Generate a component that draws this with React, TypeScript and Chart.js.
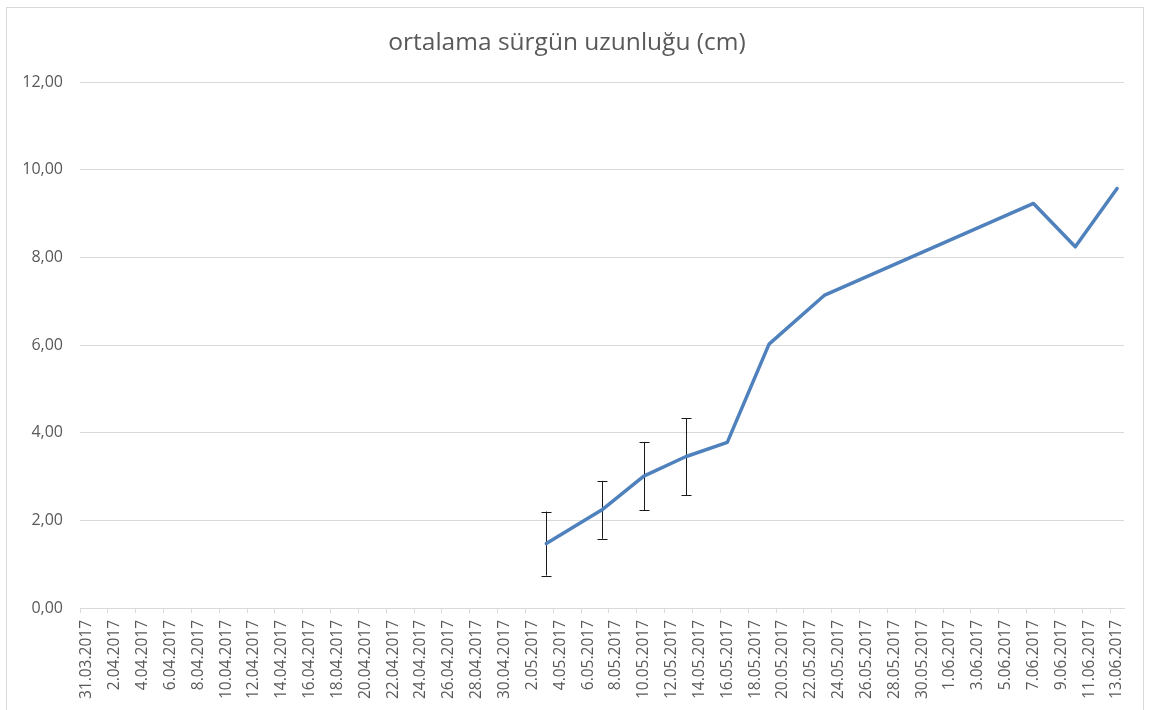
import React, { useEffect, useRef } from "react";
import { Chart, registerables } from "chart.js";

Chart.register(...registerables);

// Category range (daily axis)
const firstDay = "2017-03-31";
const lastDay = "2017-06-13";

// Measurements
const measureDates = [
  "3.05.2017",
  "7.05.2017",
  "10.05.2017",
  "13.05.2017",
  "16.05.2017",
  "19.05.2017",
  "23.05.2017",
  "7.06.2017",
  "10.06.2017",
  "13.06.2017",
];
const meanLength = [1.47, 2.24, 3.01, 3.45, 3.78, 6.02, 7.14, 9.23, 8.24, 9.57];
const errorSize = [0.73, 0.66, 0.78, 0.88, null, null, null, null, null, null];

const yTicks = [0, 2, 4, 6, 8, 10, 12];
const titleText = "ortalama sürgün uzunluğu (cm)";

function buildDays(start: string, end: string): string[] {
  const out: string[] = [];
  const d = new Date(start + "T12:00:00Z");
  const e = new Date(end + "T12:00:00Z");
  while (d.getTime() <= e.getTime()) {
    const dd = d.getUTCDate();
    const mm = String(d.getUTCMonth() + 1).padStart(2, "0");
    out.push(`${dd}.${mm}.${d.getUTCFullYear()}`);
    d.setUTCDate(d.getUTCDate() + 1);
  }
  return out;
}

const days = buildDays(firstDay, lastDay);
const seriesData = days.map((lab) => {
  const i = measureDates.indexOf(lab);
  return i >= 0 ? meanLength[i] : null;
});
const errorData = days.map((lab) => {
  const i = measureDates.indexOf(lab);
  return i >= 0 ? errorSize[i] : null;
});

const errorBarPlugin = {
  id: "errorBars",
  beforeDatasetsDraw(chart: any) {
    const ctx = chart.ctx;
    const x = chart.scales.x;
    const y = chart.scales.y;
    ctx.save();
    ctx.strokeStyle = "#1a1a1a";
    ctx.lineWidth = 1;
    errorData.forEach((err, i) => {
      const v = seriesData[i];
      if (err == null || v == null) return;
      const px = Math.round(x.getPixelForValue(i)) + 0.5;
      const top = y.getPixelForValue(v + err);
      const bot = y.getPixelForValue(v - err);
      ctx.beginPath();
      ctx.moveTo(px, top);
      ctx.lineTo(px, bot);
      ctx.moveTo(px - 5, Math.round(top) + 0.5);
      ctx.lineTo(px + 5, Math.round(top) + 0.5);
      ctx.moveTo(px - 5, Math.round(bot) + 0.5);
      ctx.lineTo(px + 5, Math.round(bot) + 0.5);
      ctx.stroke();
    });
    ctx.restore();
  },
};

export default function App() {
  const canvasRef = useRef<HTMLCanvasElement | null>(null);

  useEffect(() => {
    if (!canvasRef.current) return;
    const font = "'Open Sans', 'Noto Sans', sans-serif";
    const chart = new Chart(canvasRef.current, {
      type: "line",
      data: {
        labels: days,
        datasets: [
          {
            data: seriesData,
            borderColor: "#4F81BD",
            borderWidth: 3.5,
            pointRadius: 0,
            pointHoverRadius: 0,
            spanGaps: true,
            tension: 0,
            borderJoinStyle: "round",
            borderCapStyle: "round",
            fill: false,
          },
        ],
      },
      options: {
        animation: false,
        responsive: false,
        maintainAspectRatio: false,
        events: [],
        layout: { padding: { left: 10, right: 29, top: 0, bottom: 0 } },
        plugins: {
          legend: { display: false },
          tooltip: { enabled: false },
          title: {
            display: true,
            text: titleText,
            color: "#595959",
            font: { family: font, size: 24.5, weight: "normal", lineHeight: 1.2 },
            padding: { top: 28.3, bottom: 24.3 },
          },
        },
        scales: {
          x: {
            type: "category",
            offset: true,
            grid: {
              offset: true,
              drawOnChartArea: false,
              drawTicks: true,
              tickLength: 5,
              tickColor: (c: any) => (c.index % 2 === 0 ? "#d9d9d9" : "rgba(0,0,0,0)"),
            },
            border: { display: true, color: "#d9d9d9", width: 1 },
            ticks: {
              autoSkip: false,
              minRotation: 90,
              maxRotation: 90,
              padding: 7,
              color: "#595959",
              font: { family: font, size: 15.5 },
              callback: (_v: any, i: number) => (i % 2 === 0 ? days[i] : ""),
            },
            afterFit: (s: any) => {
              s.height = 102;
            },
          },
          y: {
            min: 0,
            max: 12,
            afterBuildTicks: (s: any) => {
              s.ticks = yTicks.map((v) => ({ value: v }));
            },
            grid: { color: "#d9d9d9", drawTicks: false, lineWidth: 1 },
            border: { display: false },
            ticks: {
              padding: 17,
              color: "#595959",
              font: { family: font, size: 16 },
              callback: (v: any) => Number(v).toFixed(2).replace(".", ","),
            },
            afterFit: (s: any) => {
              s.width = 70;
            },
          },
        },
      },
      plugins: [errorBarPlugin],
    });
    return () => chart.destroy();
  }, []);

  return (
    <div style={{ position: "fixed", left: 0, top: 0, width: 1153, height: 710, background: "#fff" }}>
      <div
        style={{
          position: "absolute",
          left: 6,
          top: 7,
          width: 1138,
          height: 720,
          border: "1px solid #d9d9d9",
          boxSizing: "border-box",
        }}
      />
      <canvas
        ref={canvasRef}
        width={1153}
        height={710}
        style={{ position: "absolute", left: 0, top: 0, width: 1153, height: 710 }}
      />
    </div>
  );
}
